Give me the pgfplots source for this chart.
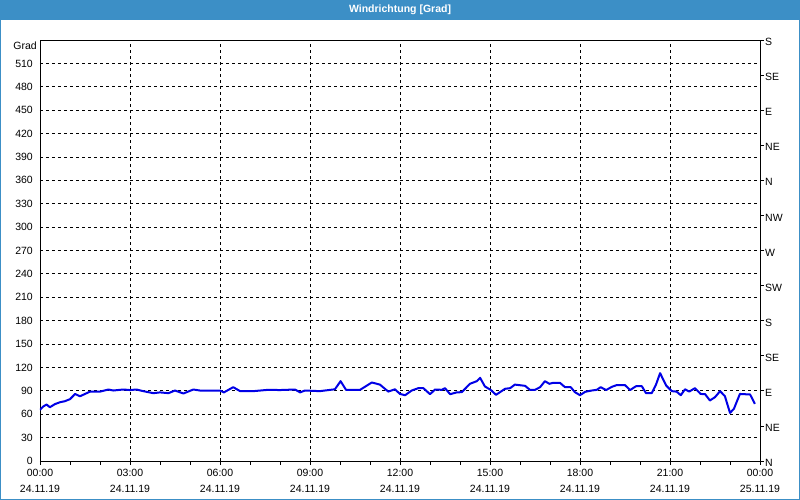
\documentclass[border=0pt]{standalone}
\usepackage{pgfplots}
\pgfplotsset{compat=1.18}
\usepackage{fontspec}
\setmainfont{Liberation Sans}
\definecolor{titlebar}{RGB}{60,143,198}
\definecolor{linecol}{RGB}{0,0,230}
\begin{document}
\begin{tikzpicture}[x=1pt,y=1pt]
\fill[white] (0pt,0pt) rectangle (800pt,500pt);
\fill[titlebar] (0pt,480pt) rectangle (800pt,500pt);
\draw[titlebar, line width=1pt] (0.5pt,0.5pt) rectangle (799.5pt,499.5pt);
\node[white, font=\fontsize{10.5}{12}\selectfont\bfseries] at (400pt,490pt) {Windrichtung [Grad]};
\node[font=\fontsize{10.5}{12}\selectfont, anchor=east, inner sep=0pt] at (37pt,454pt) {Grad};
\begin{axis}[
  at={(40pt,39pt)}, anchor=south west,
  width=720pt, height=421pt, scale only axis,
  xmin=0, xmax=24, ymin=0, ymax=540,
  /pgf/number format/assume math mode=true,
  axis line style={black, line width=0.9pt},
  xtick={0,3,...,24},
  xticklabels={{00:00\\24.11.19},{03:00\\24.11.19},{06:00\\24.11.19},{09:00\\24.11.19},{12:00\\24.11.19},{15:00\\24.11.19},{18:00\\24.11.19},{21:00\\24.11.19},{00:00\\25.11.19}},
  xticklabel style={align=center, font=\fontsize{10.5}{16}\selectfont, inner sep=0pt, yshift=-4pt},
  minor x tick num=2,
  xtick pos=bottom,
  tick align=outside,
  major tick length=4pt, minor tick length=4pt,
  x tick style={black, line width=0.8pt},
  minor x tick style={black, line width=0.8pt},
  ytick={0,30,...,510},
  ytick pos=left,
  y tick style={draw=none},
  yticklabel style={font=\fontsize{10.5}{12}\selectfont, inner sep=0pt, xshift=-3pt},
  grid=major,
  major grid style={black, line width=0.8pt, dash pattern=on 3pt off 3pt},
  clip=true,
]
\addplot[linecol, line width=2pt, line join=round] coordinates {
(0.00,65.6) (0.11,70) (0.22,72.4) (0.33,69) (0.50,73) (0.67,75.4) (0.83,76.7) (1.00,79.3)
(1.17,86) (1.33,83) (1.50,86) (1.67,89) (2.00,89) (2.28,91.7) (2.44,90.4) (2.78,91.7)
(3.00,91) (3.22,91.7) (3.44,89.6) (3.78,87) (4.00,88) (4.28,87) (4.50,90.4) (4.78,86.6)
(5.11,91.7) (5.33,90.4) (6.00,90.4) (6.13,88) (6.44,94.7) (6.67,89.6) (7.11,89.6) (7.61,91.3)
(8.00,91) (8.50,91.7) (8.67,88) (8.83,90.4) (9.33,89.6) (9.83,92) (10.02,102.4) (10.20,91.3)
(10.67,91.3) (11.06,100.7) (11.33,98) (11.61,89) (11.83,92) (12.00,86) (12.17,84.4) (12.39,90.4)
(12.61,93.4) (12.78,93.4) (13.00,85.7) (13.17,91.7) (13.39,91.3) (13.50,93.4) (13.67,85.7) (13.89,88)
(14.06,88.3) (14.33,99) (14.56,102.4) (14.67,106.7) (14.83,95.6) (15.02,91.3) (15.20,84.9) (15.50,92.6)
(15.67,93.4) (15.83,98) (16.17,96.4) (16.33,91.3) (16.50,91.3) (16.67,94.7) (16.83,102.4) (16.98,99)
(17.11,100.3) (17.33,100.3) (17.50,94.7) (17.69,94.7) (17.83,88.3) (18.00,84.4) (18.17,88.7) (18.39,90.4)
(18.56,91.3) (18.69,94.7) (18.87,91) (19.06,95.1) (19.22,97.3) (19.50,97.3) (19.67,91) (19.87,96)
(20.06,96) (20.20,87) (20.39,87) (20.53,97.7) (20.67,112.7) (20.87,96.9) (21.06,89.6) (21.22,89)
(21.36,84.4) (21.50,92) (21.64,89) (21.83,93.4) (22.02,86) (22.17,85.7) (22.33,77.6) (22.50,81.9)
(22.67,89.6) (22.83,83.1) (23.00,61.7) (23.13,66.9) (23.33,86) (23.67,85.3) (23.83,73.3)
};
\end{axis}
\begin{axis}[
  at={(40pt,39pt)}, anchor=south west,
  width=720pt, height=421pt, scale only axis,
  xmin=0, xmax=24, ymin=0, ymax=540,
  axis x line=none,
  axis y line*=right,
  axis line style={black, line width=0.9pt},
  ytick={0,45,...,540},
  yticklabels={N,NE,E,SE,S,SW,W,NW,N,NE,E,SE,S},
  tick align=outside,
  major tick length=4pt,
  y tick style={black, line width=0.8pt},
  yticklabel style={font=\fontsize{10.5}{12}\selectfont, inner sep=0pt, anchor=west, xshift=1pt, yshift=-2pt},
]
\end{axis}
\end{tikzpicture}
\end{document}
